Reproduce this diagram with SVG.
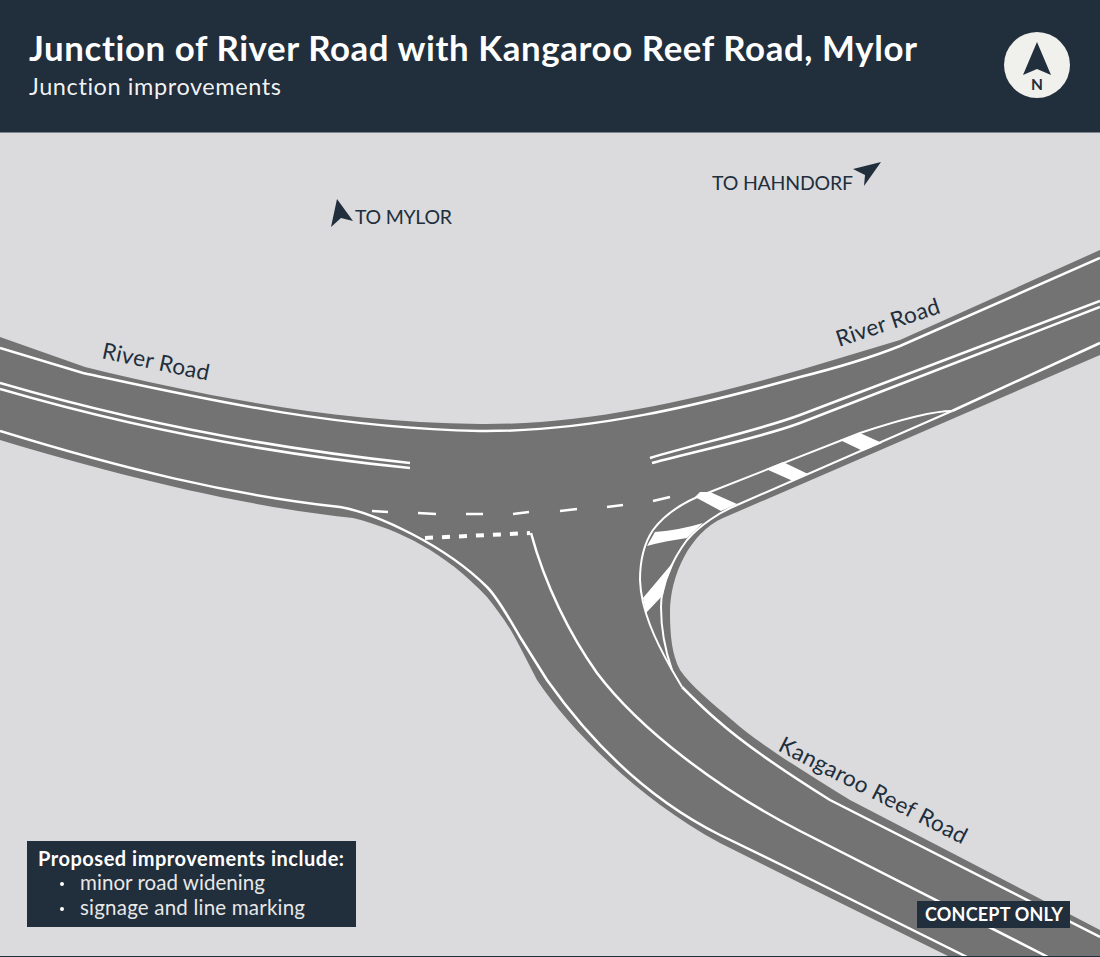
<svg xmlns="http://www.w3.org/2000/svg" width="1100" height="957" viewBox="0 0 1100 957">
<style>
.ln{fill:none;stroke:#fff;stroke-width:2.5}
.thin{fill:none;stroke:#fff;stroke-width:2}
.sw{fill:#fff}
.dark{fill:#212e3c}
text{font-family:"Lato","Liberation Sans",sans-serif;font-variant-ligatures:none}
.lab{fill:#212e3c;font-size:22.5px}
.dest{fill:#212e3c;font-size:19.5px}
.w{fill:#fff}
</style>
<rect width="1100" height="957" fill="#dbdbdd"/>
<g id="road">
<path fill="#737373" d="M0,337 L85,367 C200,395 330,422 480,424 C590,425 700,398 800,370 L900,340 L1100,250 L1100,355 L723,518 C690,533 670,575 670,613 C670,635 672,655 680,670 C690,685 712,703 732,720 C760,745 810,775 850,800 L1100,930 L1100,957 L950,957 L800,883 L720,843 C640,800 570,730 537,680 L520,647 C509,625 498,611 487,597 C445,552 400,530 353,518 C230,505 100,470 0,440 Z"/>
</g>
<g id="markings">
<path class="ln" d="M0,348 L83,373 C200,398 330,428 480,431 C590,432 700,405 800,377 Q860,362 900,346 L1100,258"/>
<path class="ln" d="M0,383 C120,418 260,447 410,463"/>
<path class="ln" d="M0,389 C120,424 260,453 410,468"/>
<path class="ln" d="M650,458 C700,443 760,430 800,415 L1100,301"/>
<path class="ln" d="M652,463 C700,450 760,438 800,423 L1100,307"/>
<path class="ln" d="M0,431 C120,468 230,495 340,507 C375,513 445,545 487,587 C498,598 510,620 520,637 L547,680 C600,755 660,805 720,835 L800,874 L967,957"/>
<path class="ln" d="M531,533 C545,585 570,635 597,673 C640,730 720,790 800,831 L1048,957"/>
<path class="ln" d="M952,411 L1100,343"/>
<path class="ln" d="M682,687 C695,700 705,710 717,720 C745,745 790,775 830,800 L1100,937"/>
<path class="thin" d="M952,411 C930,411 890,423 860,433 L710,492 C690,499 668,510 653,530 C643,545 640,565 640,580 C641,610 655,640 672,670 L682,687"/>
<path class="thin" d="M952,411 L737,505 C720,512 700,525 687,540 C672,560 661,585 661,607 C661,630 665,650 672,670"/>
<path class="sw" d="M840,440 L860,433 L882,443 L863,451 Z"/>
<path class="sw" d="M766,469 L783,462 L808,474 L793,481 Z"/>
<path class="sw" d="M695,497 L700,492 L710,492 L737,504 L721,511 Z"/>
<path class="sw" d="M655,532 Q680,530 703,523 L687,538 Q665,541 647,546 Z"/>
<path class="sw" d="M675,560 L643,598 L646,613 L663,595 L667,580 Z"/>
<g stroke="#fff" stroke-width="2.4">
<path d="M372,511 L388,512 M418,513 L436,514 M466,514 L483,514 M513,514 L529,512 M560,511 L577,509 M607,507 L623,505 M653,501 L670,497"/>
</g>
<path fill="none" stroke="#fff" stroke-width="4" stroke-dasharray="8 9" d="M425,538 L530,533"/>
</g>
<rect id="header" width="1100" height="132.5" class="dark"/>
<rect y="956" width="1100" height="1" class="dark"/>
<g id="title">
<text x="29" y="61" class="w" font-size="34.8" font-weight="700" textLength="888">Junction of River Road with Kangaroo Reef Road, Mylor</text>
<text x="29" y="95" class="w" font-size="23.5" textLength="252" fill-opacity=".95">Junction improvements</text>
</g>
<g id="north">
<circle cx="1037" cy="65" r="33" fill="#f0f0ec"/>
<path class="dark" d="M1037,42 L1051,75 L1037,69 L1023,75 Z"/>
<text x="1037" y="89.5" text-anchor="middle" class="dark" font-size="15.5" font-weight="700">N</text>
</g>
<g id="to-mylor">
<path class="dark" d="M337,199 L353,221 L341,218 L331,227 Z"/>
<text x="355" y="224" class="dest" textLength="97">TO MYLOR</text>
</g>
<g id="to-hahndorf">
<path class="dark" d="M881,162 L853,169 L865,175 L864,186 Z"/>
<text x="712" y="190" class="dest" textLength="141">TO HAHNDORF</text>
</g>
<g id="road-labels">
<text class="lab" transform="translate(101,358) rotate(12)" textLength="109">River Road</text>
<text class="lab" transform="translate(839,347) rotate(-18.5)" textLength="108">River Road</text>
<text class="lab" transform="translate(777,750) rotate(27)" textLength="208">Kangaroo Reef Road</text>
</g>
<g id="legend">
<rect x="27" y="841" width="329" height="86" class="dark"/>
<text x="38" y="866" class="w" font-size="20" font-weight="700" textLength="306">Proposed improvements include:</text>
<circle cx="62" cy="884" r="2" fill="#fff"/>
<text x="80" y="890" fill="#e8e8e8" font-size="20.5" textLength="185">minor road widening</text>
<circle cx="62" cy="909" r="2" fill="#fff"/>
<text x="80" y="915" fill="#e8e8e8" font-size="20.5" textLength="225">signage and line marking</text>
</g>
<g id="concept">
<rect x="917" y="901" width="153" height="27" class="dark"/>
<text x="925" y="921" class="w" font-size="18" font-weight="700" textLength="138">CONCEPT ONLY</text>
</g>
</svg>
